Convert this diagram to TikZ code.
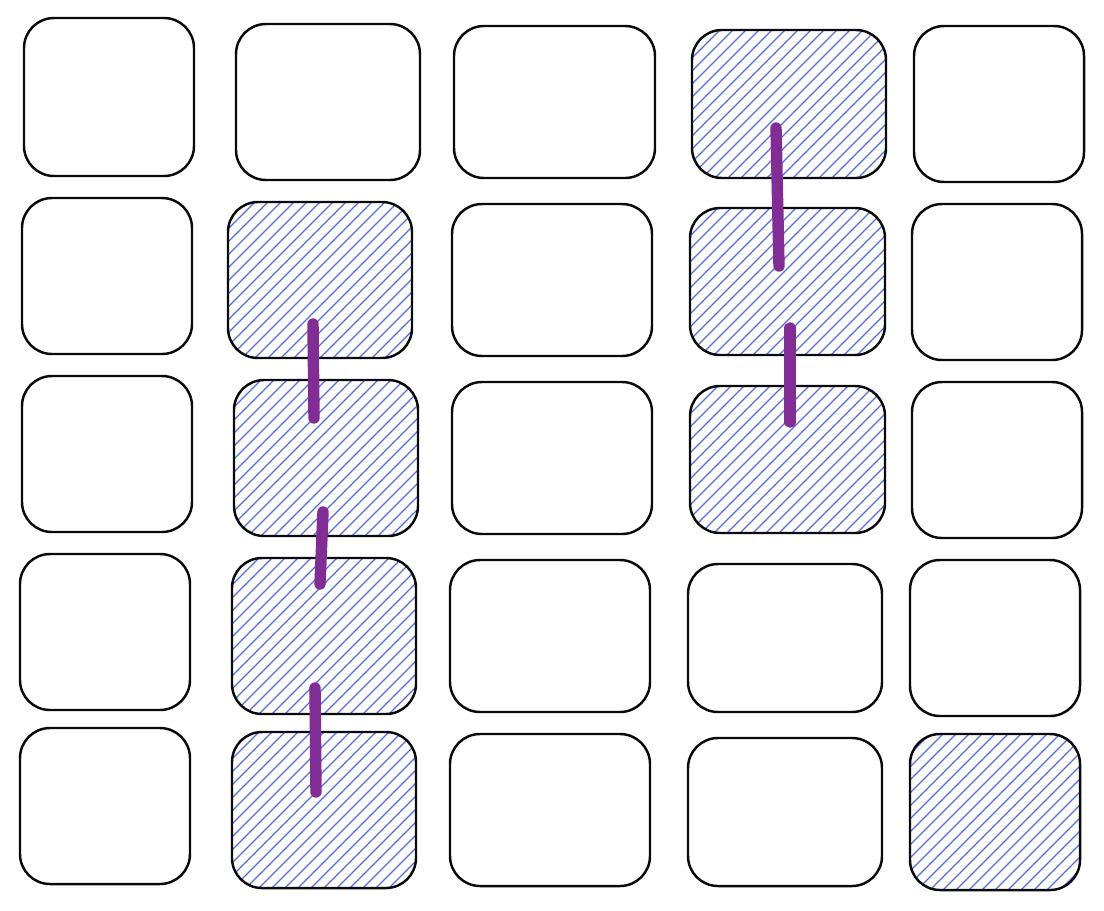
\documentclass[tikz,border=0pt]{standalone}
\usepackage{tikz}
\usetikzlibrary{calc,backgrounds}
\definecolor{ink}{RGB}{10,10,10}
\definecolor{hatch}{RGB}{80,110,235}
\definecolor{trace}{RGB}{130,45,150}
\tikzset{
  cell/.style={draw=ink, line width=1.4pt, rounded corners=0.6cm,
               inner sep=0pt, outer sep=0pt},
  hatchline/.style={draw=hatch, line width=0.7pt},
  link/.style={draw=trace, line width=6.5pt, line cap=round},
}
\begin{document}
\begin{tikzpicture}[x=0.02cm, y=-0.02cm]
  \useasboundingbox (0,0) rectangle (1104,910);
  % grid of cells: name / left / top / right / bottom
  \foreach \nm/\xa/\ya/\xb/\yb in {
      a1/24/18/194/176, a2/236/24/420/180, a3/454/26/655/178,
      a4/692/30/886/178, a5/914/26/1084/182,
      b1/22/198/192/354, b2/228/202/412/358, b3/452/204/652/356,
      b4/690/208/885/355, b5/912/204/1082/360,
      c1/22/376/192/532, c2/234/380/418/536, c3/452/382/652/534,
      c4/690/386/885/533, c5/912/382/1082/538,
      d1/20/554/190/710, d2/232/558/416/714, d3/450/560/650/712,
      d4/688/564/882/712, d5/910/560/1080/716,
      e1/20/728/190/884, e2/232/732/416/888, e3/450/734/650/886,
      e4/688/738/882/886, e5/910/734/1080/890}
    \node[cell, minimum width={(\xb-\xa)*0.02cm}, minimum height={(\yb-\ya)*0.02cm}]
      (\nm) at ({(\xa+\xb)/2},{(\ya+\yb)/2}) {};
  % hatching of the selected cells
  \begin{scope}[on background layer]
    \foreach \nm in {a4,b2,b4,c2,c4,d2,e2,e5}{
      \begin{scope}
        \clip[rounded corners=0.6cm] (\nm.south west) rectangle (\nm.north east);
        \foreach \i in {-16,...,16}
          \draw[hatchline] ($(\nm.center)+(\i*13-120,120)$) -- ++(240,-240);
      \end{scope}
    }
  \end{scope}
  % ends of the links
  \coordinate (l1a) at (776,128); \coordinate (l1b) at (779,266);
  \coordinate (l2a) at (790,328); \coordinate (l2b) at (790,422);
  \coordinate (l3a) at (313,324); \coordinate (l3b) at (314,418);
  \coordinate (l4a) at (323,512); \coordinate (l4b) at (320,584);
  \coordinate (l5a) at (315,688); \coordinate (l5b) at (316,792);
  \foreach \k in {1,...,5}
    \draw[link] (l\k a) -- (l\k b);
\end{tikzpicture}
\end{document}
